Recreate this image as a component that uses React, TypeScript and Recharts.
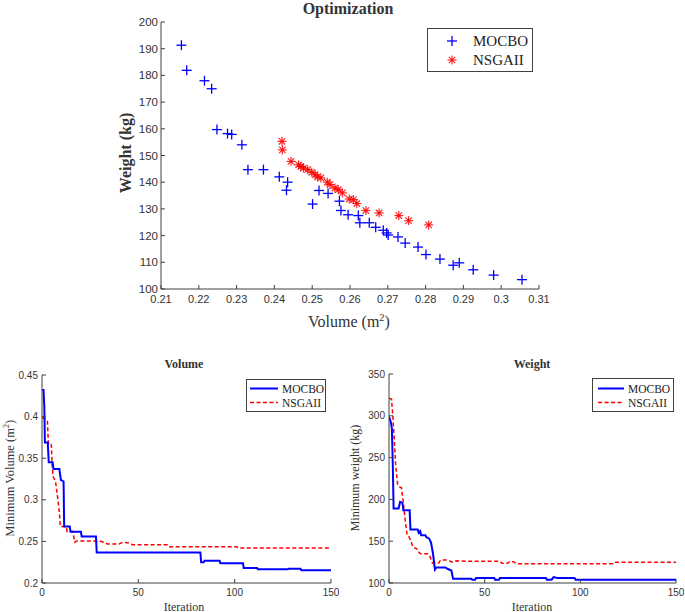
import React from "react";
import { ComposedChart, Scatter, Line, XAxis, YAxis, Legend } from "recharts";

// ---------- Pareto fronts (top chart) ----------
const mocboVolume = [0.2154, 0.2168, 0.2215, 0.2234, 0.2248, 0.2276, 0.2287, 0.2314, 0.233, 0.2371, 0.2413, 0.2435, 0.2432, 0.2501, 0.2518, 0.2542, 0.2572, 0.2576, 0.2595, 0.2622, 0.2626, 0.2651, 0.2668, 0.2688, 0.2697, 0.2701, 0.2727, 0.2746, 0.278, 0.2801, 0.2838, 0.2873, 0.2889, 0.2926, 0.298, 0.3055];
const mocboWeight = [191.3, 181.9, 178.0, 175.0, 159.7, 158.2, 157.9, 154.0, 144.7, 144.7, 142.0, 140.0, 137.0, 131.8, 136.9, 135.8, 132.9, 129.4, 127.8, 127.5, 124.8, 124.8, 123.1, 122.0, 121.0, 120.2, 119.5, 117.2, 115.7, 112.9, 111.2, 108.9, 109.8, 107.2, 105.2, 103.5];
const nsgaVolume = [0.242, 0.2421, 0.2444, 0.2464, 0.247, 0.2477, 0.2488, 0.2499, 0.2508, 0.2514, 0.2523, 0.254, 0.2547, 0.256, 0.2569, 0.258, 0.2598, 0.2609, 0.2618, 0.2642, 0.2677, 0.2729, 0.2755, 0.2808];
const nsgaWeight = [155.3, 152.1, 147.8, 146.5, 145.9, 145.3, 144.7, 143.7, 142.8, 142.0, 141.6, 140.0, 139.1, 137.8, 137.2, 136.0, 133.7, 133.5, 132.0, 129.4, 128.5, 127.5, 125.6, 124.0];
const paretoXTicks = [0.21, 0.22, 0.23, 0.24, 0.25, 0.26, 0.27, 0.28, 0.29, 0.3, 0.31];
const paretoYTicks = [100, 110, 120, 130, 140, 150, 160, 170, 180, 190, 200];

// ---------- Convergence of minimum volume ----------
const volIterMocbo = [0, 0.8, 1.2, 1.5, 3, 3.5, 5.5, 6, 9, 9.8, 11.2, 11.5, 14.4, 14.8, 20.2, 20.6, 28, 28.4, 82.2, 82.6, 83.9, 84.3, 92.2, 92.6, 104.3, 104.7, 111.6, 112, 127.5, 128, 134.2, 134.6, 150];
const volValMocbo = [0.432, 0.432, 0.412, 0.369, 0.369, 0.345, 0.345, 0.337, 0.337, 0.324, 0.322, 0.268, 0.268, 0.2615, 0.2615, 0.256, 0.256, 0.2368, 0.2368, 0.2248, 0.2248, 0.2266, 0.2266, 0.2236, 0.2236, 0.218, 0.218, 0.2164, 0.2164, 0.2172, 0.2172, 0.2152, 0.2152];
const volIterNsga = [0, 2, 2.8, 3.3, 4.8, 5.3, 5.8, 7, 8, 9, 9.5, 12.5, 13, 16, 17, 18, 30, 32, 34, 40, 42, 45, 47, 65, 66, 101, 102, 150];
const volValNsga = [0.399, 0.397, 0.395, 0.368, 0.368, 0.34, 0.328, 0.322, 0.305, 0.285, 0.268, 0.268, 0.262, 0.262, 0.249, 0.2505, 0.2505, 0.249, 0.247, 0.247, 0.249, 0.248, 0.246, 0.246, 0.2435, 0.2435, 0.242, 0.242];
const volXTicks = [0, 50, 100, 150];
const volYTicks = [0.2, 0.25, 0.3, 0.35, 0.4, 0.45];

// ---------- Convergence of minimum weight ----------
const wIterMocbo = [0, 1, 1.5, 2, 2.4, 5, 5.8, 7, 7.5, 10.8, 11.2, 15, 15.5, 16.3, 16.8, 19, 19.5, 21, 22, 23, 24, 24.8, 29.5, 30.5, 32.6, 33.5, 43, 43.5, 45, 45.5, 55, 55.5, 57.5, 58, 82, 82.5, 85, 86, 88, 97, 97.5, 150];
const wValMocbo = [299, 292, 285, 240, 189, 189, 197, 196, 187, 187, 164, 164, 160, 162, 157, 157, 155, 153, 148, 135, 116, 118.5, 118.5, 117, 115, 105, 105, 104, 104, 106, 106, 104, 104, 106, 106, 104, 104, 107, 106, 106, 104, 104];
const wIterNsga = [0, 1.3, 2, 2.8, 3.5, 4.5, 5.5, 6.5, 7.3, 8, 9, 9.5, 10.5, 11.5, 12.5, 14.5, 15, 16.5, 20, 21, 22, 22.7, 26, 27, 30, 32, 33, 35, 40, 58, 59, 62, 63, 65, 66, 67, 117, 118, 150];
const wValNsga = [321, 320, 300, 270, 240, 218, 215, 214, 200, 185, 165, 157, 155, 150, 143, 141, 138, 135, 135, 134, 128, 124, 124, 127.5, 127.5, 126, 125, 126.5, 126, 126, 123.5, 123.5, 125.5, 125.5, 124, 123, 123, 124.8, 124.8];
const wXTicks = [0, 50, 100, 150];
const wYTicks = [100, 150, 200, 250, 300, 350];

const seriesNames = ["MOCBO", "NSGAII"];
const BLUE = "#0000ff";
const RED = "#ff0000";
const AXIS = "#404040";
const TXT = "#333333";
const SERIF = "'Liberation Serif', 'Times New Roman', serif";
const SANS = "'Liberation Sans', Arial, sans-serif";

const zip = (xs: number[], ys: number[]) => xs.map((x, i) => ({ x, y: ys[i] }));

const PlusShape = (p: any) => {
  const { cx, cy } = p;
  const s = 5;
  return (
    <g stroke={BLUE} strokeWidth={1.3}>
      <line x1={cx - s} y1={cy} x2={cx + s} y2={cy} />
      <line x1={cx} y1={cy - s} x2={cx} y2={cy + s} />
    </g>
  );
};

const StarShape = (p: any) => {
  const { cx, cy } = p;
  const s = 4.5;
  const d = 3.2;
  return (
    <g stroke={RED} strokeWidth={1.2} strokeOpacity={0.85}>
      <line x1={cx - s} y1={cy} x2={cx + s} y2={cy} />
      <line x1={cx} y1={cy - s} x2={cx} y2={cy + s} />
      <line x1={cx - d} y1={cy - d} x2={cx + d} y2={cy + d} />
      <line x1={cx - d} y1={cy + d} x2={cx + d} y2={cy - d} />
    </g>
  );
};

const fmt = (v: number) => String(v);

const tickStyle = (size: number) => ({ fill: TXT, fontSize: size, fontFamily: SANS });

const ScatterLegend = () => (
  <div style={{ width: 106, height: 44, border: `1px solid ${AXIS}`, background: "#fff", boxSizing: "border-box", position: "relative" }}>
    <svg width={104} height={42} style={{ position: "absolute", left: 0, top: 0 }}>
      <PlusShape cx={24} cy={12} />
      <StarShape cx={24} cy={31} />
      <text x={45} y={17} fontFamily={SERIF} fontSize={15} fill="#222">{seriesNames[0]}</text>
      <text x={45} y={36} fontFamily={SERIF} fontSize={15} fill="#222">{seriesNames[1]}</text>
    </svg>
  </div>
);

const LineLegend = ({ w, h, x1, x2, tx, y1, y2 }: any) => (
  <div style={{ width: w, height: h, border: `1px solid ${AXIS}`, background: "#fff", boxSizing: "border-box", position: "relative" }}>
    <svg width={w - 2} height={h - 2} style={{ position: "absolute", left: 0, top: 0 }}>
      <line x1={x1} y1={y1} x2={x2} y2={y1} stroke={BLUE} strokeWidth={2} />
      <line x1={x1} y1={y2} x2={x2} y2={y2} stroke={RED} strokeWidth={1.5} strokeDasharray="4 2.5" />
      <text x={tx} y={y1 + 4} fontFamily={SERIF} fontSize={11.5} fill="#222">{seriesNames[0]}</text>
      <text x={tx} y={y2 + 4} fontFamily={SERIF} fontSize={11.5} fill="#222">{seriesNames[1]}</text>
    </svg>
  </div>
);

const Txt = ({ cx, cy, size, bold, children, rotate }: any) => {
  const w = 200;
  return (
    <div
      style={{
        position: "absolute",
        left: cx - w / 2,
        top: cy - size / 2,
        width: w,
        height: size,
        lineHeight: `${size}px`,
        fontSize: size,
        fontFamily: SERIF,
        fontWeight: bold ? "bold" : "normal",
        color: TXT,
        textAlign: "center",
        whiteSpace: "nowrap",
        transform: rotate ? "rotate(-90deg)" : undefined,
        transformOrigin: "center center",
      }}
    >
      {children}
    </div>
  );
};

const sup = { fontSize: "0.65em", verticalAlign: "0.6em", lineHeight: 0 } as const;

export default function App() {
  const mocboPts = zip(mocboVolume, mocboWeight);
  const nsgaPts = zip(nsgaVolume, nsgaWeight);

  const axisCommon = { stroke: AXIS, tickLine: { stroke: AXIS }, axisLine: { stroke: AXIS } } as any;

  return (
    <div style={{ position: "absolute", left: 0, top: 0, width: 685, height: 612, background: "#fff", overflow: "hidden" }}>
      {/* ---------- Top: Pareto fronts ---------- */}
      <div style={{ position: "absolute", left: 0, top: 0 }}>
        <ComposedChart width={685} height={340} margin={{ top: 22, right: 146, bottom: 0, left: 0 }}>
          <XAxis xAxisId="b" type="number" dataKey="x" domain={[0.21, 0.31]} allowDataOverflow ticks={paretoXTicks} interval={0}
            tickFormatter={fmt} height={51} tickSize={-4} tickMargin={10} tick={tickStyle(11)} {...axisCommon} />
          <XAxis xAxisId="t" orientation="top" type="number" domain={[0.21, 0.31]} allowDataOverflow ticks={paretoXTicks} interval={0}
            height={0} tickSize={-4} tick={false} {...axisCommon} />
          <YAxis yAxisId="l" type="number" dataKey="y" domain={[100, 200]} allowDataOverflow ticks={paretoYTicks} interval={0}
            tickFormatter={fmt} width={161} tickSize={-4} tickMargin={7} tick={tickStyle(11.5)} {...axisCommon} />
          <YAxis yAxisId="r" orientation="right" type="number" domain={[100, 200]} allowDataOverflow ticks={paretoYTicks} interval={0}
            width={0} tickSize={-4} tick={false} {...axisCommon} />
          <Scatter name={seriesNames[0]} data={mocboPts} xAxisId="b" yAxisId="l" shape={PlusShape} isAnimationActive={false} />
          <Scatter name={seriesNames[1]} data={nsgaPts} xAxisId="b" yAxisId="l" shape={StarShape} isAnimationActive={false} />
          <Legend layout="vertical" align="center" verticalAlign="middle"
            wrapperStyle={{ left: 427, top: 28, width: 106, height: 44 }} content={() => <ScatterLegend />} />
        </ComposedChart>
      </div>
      <Txt cx={348} cy={8.5} size={16} bold>Optimization</Txt>
      <Txt cx={126} cy={153} size={16} bold rotate>Weight (kg)</Txt>
      <Txt cx={349} cy={322} size={16}>Volume (m<span style={sup}>2</span>)</Txt>

      {/* ---------- Bottom-left: Volume ---------- */}
      <div style={{ position: "absolute", left: 0, top: 350 }}>
        <ComposedChart width={340} height={262} margin={{ top: 25, right: 9, bottom: 0, left: 0 }}>
          <XAxis xAxisId="b" type="number" dataKey="x" domain={[0, 150]} allowDataOverflow ticks={volXTicks} interval={0}
            tickFormatter={fmt} height={29} tickSize={-4} tickMargin={10} tick={tickStyle(10)} {...axisCommon} />
          <XAxis xAxisId="t" orientation="top" type="number" domain={[0, 150]} allowDataOverflow ticks={volXTicks} interval={0}
            height={0} tickSize={-4} tick={false} {...axisCommon} />
          <YAxis yAxisId="l" type="number" domain={[0.2, 0.45]} allowDataOverflow ticks={volYTicks} interval={0}
            tickFormatter={fmt} width={42} tickSize={-4} tickMargin={8} tick={tickStyle(10)} {...axisCommon} />
          <YAxis yAxisId="r" orientation="right" type="number" domain={[0.2, 0.45]} allowDataOverflow ticks={volYTicks} interval={0}
            width={0} tickSize={-4} tick={false} {...axisCommon} />
          <Line name={seriesNames[1]} data={zip(volIterNsga, volValNsga)} dataKey="y" xAxisId="b" yAxisId="l" type="linear"
            stroke={RED} strokeWidth={1.5} strokeDasharray="4 2.5" dot={false} isAnimationActive={false} />
          <Line name={seriesNames[0]} data={zip(volIterMocbo, volValMocbo)} dataKey="y" xAxisId="b" yAxisId="l" type="linear"
            stroke={BLUE} strokeWidth={2} dot={false} isAnimationActive={false} />
          <Legend layout="vertical" align="center" verticalAlign="middle"
            wrapperStyle={{ left: 246, top: 29, width: 80, height: 33 }}
            content={() => <LineLegend w={80} h={33} x1={3} x2={31} tx={35} y1={8.5} y2={22.5} />} />
        </ComposedChart>
      </div>
      <Txt cx={184} cy={363.5} size={12} bold>Volume</Txt>
      <Txt cx={184} cy={606.5} size={12}>Iteration</Txt>
      <Txt cx={10} cy={478} size={12.5} rotate>Minimum Volume (m<span style={sup}>2</span>)</Txt>

      {/* ---------- Bottom-right: Weight ---------- */}
      <div style={{ position: "absolute", left: 340, top: 350 }}>
        <ComposedChart width={345} height={262} margin={{ top: 24, right: 9, bottom: 0, left: 0 }}>
          <XAxis xAxisId="b" type="number" dataKey="x" domain={[0, 150]} allowDataOverflow ticks={wXTicks} interval={0}
            tickFormatter={fmt} height={29} tickSize={-4} tickMargin={10} tick={tickStyle(10)} {...axisCommon} />
          <XAxis xAxisId="t" orientation="top" type="number" domain={[0, 150]} allowDataOverflow ticks={wXTicks} interval={0}
            height={0} tickSize={-4} tick={false} {...axisCommon} />
          <YAxis yAxisId="l" type="number" domain={[100, 350]} allowDataOverflow ticks={wYTicks} interval={0}
            tickFormatter={fmt} width={49} tickSize={-4} tickMargin={8} tick={tickStyle(10)} {...axisCommon} />
          <YAxis yAxisId="r" orientation="right" type="number" domain={[100, 350]} allowDataOverflow ticks={wYTicks} interval={0}
            width={0} tickSize={-4} tick={false} {...axisCommon} />
          <Line name={seriesNames[1]} data={zip(wIterNsga, wValNsga)} dataKey="y" xAxisId="b" yAxisId="l" type="linear"
            stroke={RED} strokeWidth={1.5} strokeDasharray="4 2.5" dot={false} isAnimationActive={false} />
          <Line name={seriesNames[0]} data={zip(wIterMocbo, wValMocbo)} dataKey="y" xAxisId="b" yAxisId="l" type="linear"
            stroke={BLUE} strokeWidth={2} dot={false} isAnimationActive={false} />
          <Legend layout="vertical" align="center" verticalAlign="middle"
            wrapperStyle={{ left: 252, top: 28, width: 82, height: 34 }}
            content={() => <LineLegend w={82} h={34} x1={5} x2={31} tx={35} y1={9.5} y2={23.5} />} />
        </ComposedChart>
      </div>
      <Txt cx={532} cy={363.5} size={12} bold>Weight</Txt>
      <Txt cx={532} cy={606.5} size={12}>Iteration</Txt>
      <Txt cx={355} cy={478} size={12} rotate>Minimum weight (kg)</Txt>
    </div>
  );
}
